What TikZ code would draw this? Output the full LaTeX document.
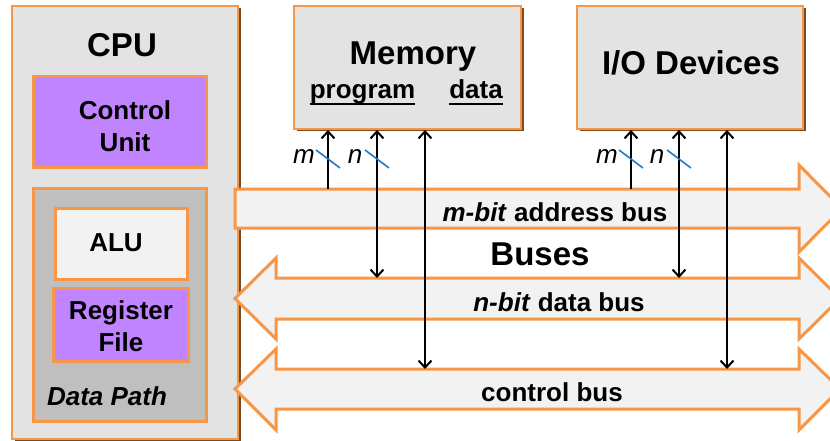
\documentclass[tikz,border=0pt]{standalone}
\usepackage{fontspec}
\setmainfont{Liberation Sans}
\usetikzlibrary{arrows.meta,calc,shadows}

\definecolor{edgeorange}{HTML}{F79646}
\definecolor{boxgray}{HTML}{E3E3E3}
\definecolor{busfill}{HTML}{F2F2F2}
\definecolor{unitpurple}{HTML}{C184FF}
\definecolor{pathgray}{HTML}{BFBFBF}
\definecolor{rimbrown}{HTML}{7B4B24}
\definecolor{tickblue}{HTML}{1F78C8}

\newcommand\txtsz{\fontsize{26}{32}\selectfont}
\newcommand\ttlsz{\fontsize{33}{38}\selectfont}

\tikzset{
  unitbox/.style={rectangle, draw=edgeorange, line width=3pt, inner sep=0pt},
  mainbox/.style={rectangle, draw=edgeorange, line width=2pt, fill=boxgray, inner sep=0pt,
    drop shadow={shadow xshift=2.5pt, shadow yshift=-2.5pt, fill=rimbrown, opacity=1}},
  busshape/.style={draw=edgeorange, line width=3pt, fill=busfill, line join=miter},
  txtlabel/.style={inner sep=0pt, font=\txtsz\bfseries},
  ttllabel/.style={inner sep=0pt, font=\ttlsz\bfseries},
  wire/.style={line width=2pt, black, >={Straight Barb[length=7pt,width=13pt]}},
  slashmark/.style={line width=1.6pt, tickblue},
  widthlabel/.style={inner sep=0pt, font=\txtsz\itshape}
}

\begin{document}
\begin{tikzpicture}[x=1pt, y=-1pt]
  \useasboundingbox (0,0) rectangle (830,441);
  \fill[white] (0,0) rectangle (830,441);

  % ---- CPU ----
  \node[mainbox, minimum width=226pt, minimum height=433pt] (cpu) at (125,222.5) {};
  \node[ttllabel, anchor=base] (cputxt) at (122,57) {CPU};
  \node[unitbox, fill=unitpurple, minimum width=173pt, minimum height=91pt] (cu) at (119.5,122.5) {};
  \node[txtlabel, align=center] (cutxt) at (125,126.5) {Control\\Unit};
  \node[unitbox, fill=pathgray, minimum width=173pt, minimum height=233pt] (dp) at (119.5,304.5) {};
  \node[unitbox, fill=busfill, minimum width=132pt, minimum height=71pt] (alu) at (121,243.5) {};
  \node[txtlabel, anchor=base] (alutxt) at (116,251) {ALU};
  \node[unitbox, fill=unitpurple, minimum width=135pt, minimum height=73pt] (rf) at (120.5,324.5) {};
  \node[txtlabel, align=center] (rftxt) at (121,326.5) {Register\\File};
  \node[txtlabel, anchor=base, font=\txtsz\bfseries\itshape] (dptxt) at (107,405) {Data Path};

  % ---- buses ----
  \draw[busshape] (235,189) -- (799,189) -- (799,165) -- (842,208.5) -- (799,252)
        -- (799,228) -- (235,228) -- cycle;
  \draw[busshape] (235,298.5) -- (276,258) -- (276,278) -- (799,278) -- (799,258)
        -- (840,298.5) -- (799,339) -- (799,319) -- (276,319) -- (276,339) -- cycle;
  \draw[busshape] (235,389) -- (276,349) -- (276,369) -- (799,369) -- (799,349)
        -- (840,389) -- (799,430) -- (799,409) -- (276,409) -- (276,430) -- cycle;

  \node[txtlabel, anchor=base] (abus) at (555,221) {\textit{m-bit} address bus};
  \node[ttllabel, anchor=base] (buses) at (540,265) {Buses};
  \node[txtlabel, anchor=base] (dbus) at (559,311) {\textit{n-bit} data bus};
  \node[txtlabel, anchor=base] (cbus) at (552,401.5) {control bus};

  % attachment points on the bus edges
  \coordinate (memA) at (328,189);
  \coordinate (memD) at (377,278);
  \coordinate (memC) at (425,369);
  \coordinate (ioA)  at (631,189);
  \coordinate (ioD)  at (679,278);
  \coordinate (ioC)  at (727,369);

  % ---- memory and I/O ----
  \node[mainbox, minimum width=227pt, minimum height=123pt] (mem) at (407.5,67.5) {};
  \node[ttllabel, anchor=base] (memtxt) at (413,65) {Memory};
  \node[txtlabel, anchor=base] (prog) at (362.5,99) {program};
  \node[txtlabel, anchor=base] (dat) at (476,99) {data};
  \draw[line width=2pt] ([yshift=-5pt]prog.base west) -- ([yshift=-5pt]prog.base east);
  \draw[line width=2pt] ([yshift=-5pt]dat.base west) -- ([yshift=-5pt]dat.base east);

  \node[mainbox, minimum width=226pt, minimum height=123pt] (io) at (690,67.5) {};
  \node[ttllabel, anchor=base] (iotxt) at (691,75) {I/O Devices};

  % ---- bus connections ----
  \draw[wire, ->] (memA) -- (memA |- mem.south);
  \draw[wire, <->] (memD |- mem.south) -- (memD);
  \draw[wire, <->] (memC |- mem.south) -- (memC);
  \draw[wire, ->] (ioA) -- (ioA |- io.south);
  \draw[wire, <->] (ioD |- io.south) -- (ioD);
  \draw[wire, <->] (ioC |- io.south) -- (ioC);

  % bus width marks
  \draw[slashmark] (316,150) -- (340,168);
  \draw[slashmark] (365,150) -- (389,168);
  \draw[slashmark] (619,150) -- (643,168);
  \draw[slashmark] (667,150) -- (691,168);
  \node[widthlabel, anchor=base] (mm) at (304,164) {m};
  \node[widthlabel, anchor=base] (mn) at (355,164) {n};
  \node[widthlabel, anchor=base] (im) at (607,164) {m};
  \node[widthlabel, anchor=base] (in) at (657,164) {n};
\end{tikzpicture}
\end{document}
